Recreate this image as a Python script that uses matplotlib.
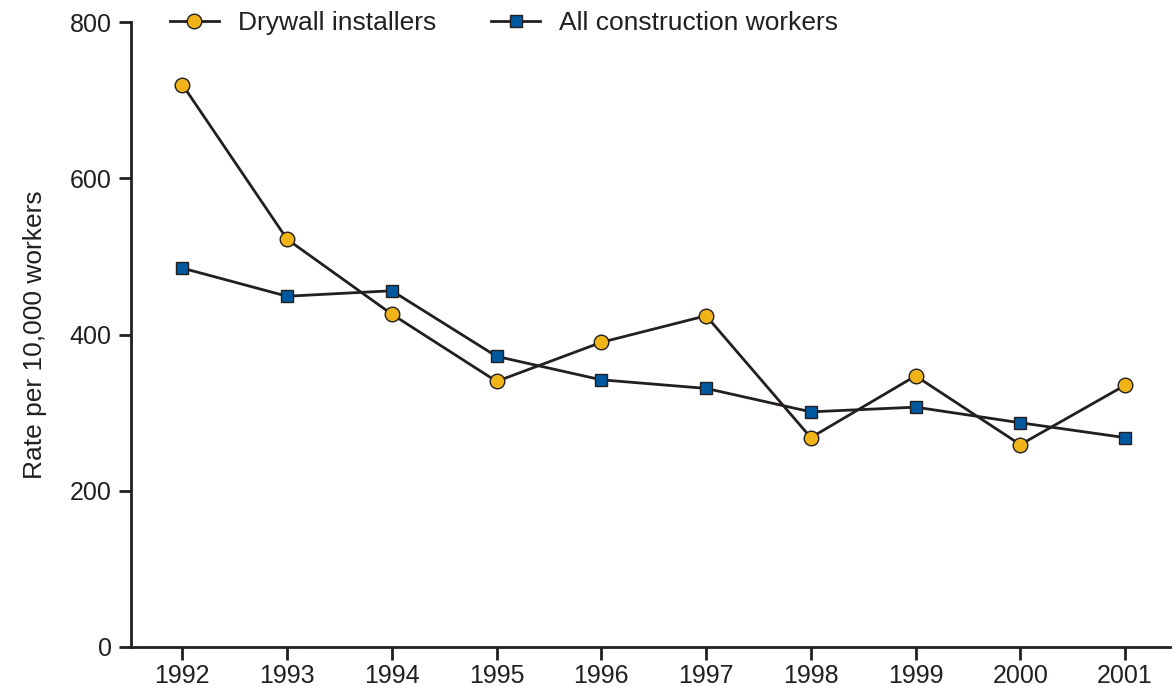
import matplotlib
matplotlib.use("Agg")
import matplotlib.pyplot as plt

plt.rcParams['font.family'] = ['Liberation Sans', 'DejaVu Sans']

years = [1992, 1993, 1994, 1995, 1996, 1997, 1998, 1999, 2000, 2001]
drywall = [720, 522, 426, 340, 390, 424, 268, 347, 259, 335]
all_construction = [485, 449, 456, 372, 342, 331, 301, 307, 287, 268]
year_labels = [str(y) for y in years]
y_ticks = [0, 200, 400, 600, 800]

fig = plt.figure(figsize=(11.76, 6.89), dpi=100)
ax = fig.add_axes([0.1114, 0.061, 0.8836, 0.907])

line_col = '#231F20'
ax.plot(years, drywall, color=line_col, lw=2, marker='o', markersize=10.5,
        markerfacecolor='#F0B419', markeredgecolor=line_col, markeredgewidth=1,
        label='Drywall installers', zorder=3)
ax.plot(years, all_construction, color=line_col, lw=2, marker='s', markersize=9,
        markerfacecolor='#00599E', markeredgecolor=line_col, markeredgewidth=1,
        label='All construction workers', zorder=3)

ax.set_xlim(1991.51, 2001.43)
ax.set_ylim(0, 800)
ax.set_xticks(years)
ax.set_xticklabels(year_labels)
ax.set_yticks(y_ticks)
ax.set_yticklabels([str(v) for v in y_ticks])

for s in ['top', 'right']:
    ax.spines[s].set_visible(False)
for s in ['left', 'bottom']:
    ax.spines[s].set_linewidth(2)
    ax.spines[s].set_color(line_col)
ax.tick_params(axis='both', direction='out', length=9, width=2, color=line_col,
               labelsize=18, labelcolor=line_col)
ax.tick_params(axis='x', pad=3)
ax.tick_params(axis='y', pad=5)
ax.set_ylabel('Rate per 10,000 workers', fontsize=19, color=line_col, labelpad=16)

leg = ax.legend(loc='center left', bbox_to_anchor=(0.124, 0.966), bbox_transform=fig.transFigure,
                ncol=2, frameon=False, fontsize=19, handlelength=1.86, columnspacing=2.1,
                handletextpad=0.72)
for t in leg.get_texts():
    t.set_color(line_col)

fig.savefig('out.png', dpi=100)
